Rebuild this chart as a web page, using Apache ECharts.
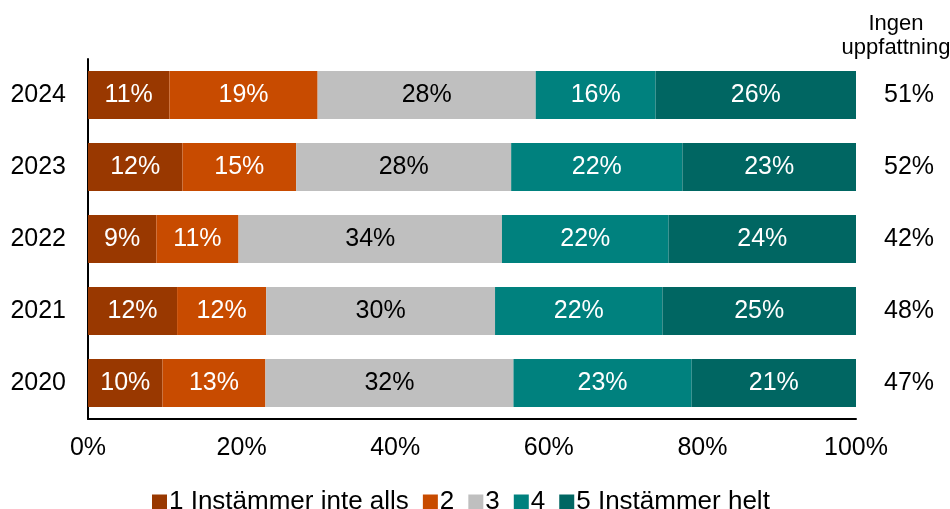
<!DOCTYPE html>
<html>
<head>
<meta charset="utf-8">
<script src="https://cdn.jsdelivr.net/npm/echarts@6/dist/echarts.min.js"></script>
<style>
  html, body { margin: 0; padding: 0; background: #fff; }
  #chart { width: 950px; height: 509px; }
</style>
</head>
<body>
<div id="chart"></div>
<script>
// år, nerifrån och upp
const years = ["2020", "2021", "2022", "2023", "2024"];
const seriesNames = ["1 Instämmer inte alls", "2", "3", "4", "5 Instämmer helt"];

// andelar i procent per svarsalternativ
const s1 = [9.7, 11.6, 8.9, 12.3, 10.6];
const s2 = [13.4, 11.6, 10.7, 14.8, 19.3];
const s3 = [32.3, 29.8, 34.3, 28.0, 28.4];
const s4 = [23.2, 21.8, 21.7, 22.3, 15.6];
const s5 = [21.4, 25.2, 24.4, 22.6, 26.1];

// Ingen uppfattning
const ingen = [47, 48, 42, 52, 51];

const xTicks = [0, 20, 40, 60, 80, 100];

const colors = ["#993800", "#C84B00", "#BFBFBF", "#00817E", "#006662"];
const labelColors = ["#fff", "#fff", "#000", "#fff", "#fff"];
const values = [s1, s2, s3, s4, s5];

const font = "Liberation Sans, Arial, sans-serif";

const chart = echarts.init(document.getElementById("chart"));

const option = {
  animation: false,
  textStyle: { fontFamily: font },
  title: {
    text: "Ingen\nuppfattning",
    left: 891,
    top: 7,
    textAlign: "center",
    textStyle: {
      fontFamily: font,
      fontSize: 22,
      fontWeight: "normal",
      color: "#000",
      lineHeight: 24
    }
  },
  legend: {
    data: seriesNames,
    left: 147,
    top: 484,
    itemWidth: 15,
    itemHeight: 15,
    itemGap: 14,
    icon: "rect",
    textStyle: { fontFamily: font, fontSize: 26, color: "#000", padding: [0, 0, 0, -3] }
  },
  grid: {
    left: 88,
    right: 94,
    top: 59,
    bottom: 90
  },
  xAxis: {
    type: "value",
    min: xTicks[0],
    max: xTicks[xTicks.length - 1],
    interval: 20,
    axisLine: { show: true, lineStyle: { color: "#000", width: 2 } },
    axisTick: { show: false },
    splitLine: { show: false },
    axisLabel: {
      formatter: "{value}%",
      fontSize: 25,
      color: "#000",
      margin: 17,
      fontFamily: font
    }
  },
  yAxis: [
    {
      type: "category",
      data: years,
      axisLine: { show: true, lineStyle: { color: "#000", width: 2 } },
      axisTick: { show: false },
      axisLabel: { fontSize: 25, color: "#000", margin: 22, fontFamily: font }
    },
    {
      type: "category",
      data: years,
      position: "right",
      axisLine: { show: false },
      axisTick: { show: false },
      axisLabel: {
        fontSize: 25,
        color: "#000",
        margin: 28,
        fontFamily: font,
        formatter: function (v, i) { return ingen[i] + "%"; }
      }
    }
  ],
  series: seriesNames.map(function (name, k) {
    return {
      name: name,
      type: "bar",
      stack: "total",
      yAxisIndex: 0,
      barWidth: 48,
      itemStyle: { color: colors[k] },
      label: {
        show: true,
        position: "inside",
        color: labelColors[k],
        fontSize: 25,
        fontFamily: font,
        formatter: function (p) { return Math.round(p.value) + "%"; }
      },
      data: values[k]
    };
  })
};

chart.setOption(option);
window.addEventListener("resize", function () {
  chart.resize();
});
</script>
</body>
</html>
